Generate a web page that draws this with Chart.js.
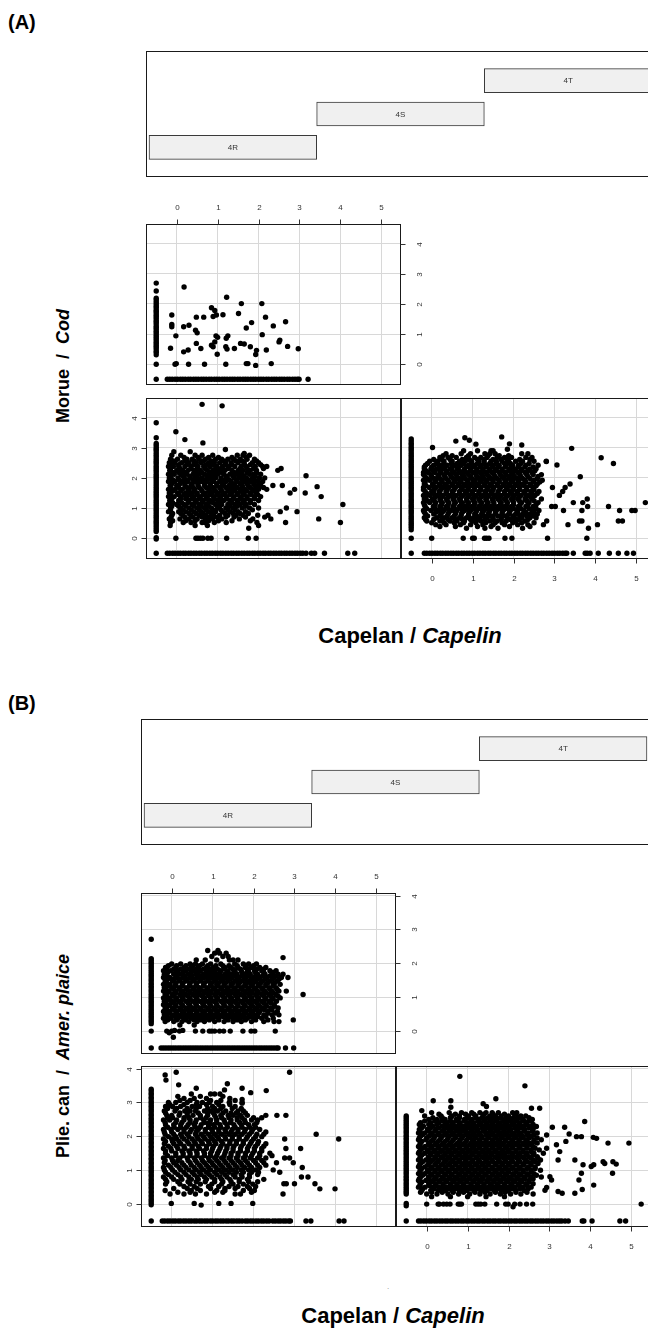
<!DOCTYPE html>
<html><head><meta charset="utf-8">
<script src="https://cdn.jsdelivr.net/npm/chart.js@4.4.1/dist/chart.umd.min.js"></script>
<style>
html,body{margin:0;padding:0;background:#fff;}
body{width:648px;height:1331px;overflow:hidden;position:relative;}
canvas{position:absolute;}
.lab{position:absolute;font-family:"Liberation Sans",Arial,sans-serif;font-weight:bold;color:#000;white-space:nowrap;line-height:1;}
.rot{transform:translate(-50%,-50%) rotate(-90deg);}
.ctr{transform:translate(-50%,-50%);}
.tag{font-family:"Liberation Sans Narrow","Arial Narrow",sans-serif;font-size:20px;}
</style></head><body>
<div class="lab tag" style="left:8px;top:12px;">(A)</div>
<div class="lab rot" style="left:63px;top:366px;font-size:18px;">Morue&nbsp;&nbsp;/&nbsp;&nbsp;<i>Cod</i></div>
<div class="lab ctr" style="left:410px;top:636px;font-size:22px;">Capelan / <i>Capelin</i></div>
<div class="lab tag" style="left:8px;top:693px;">(B)</div>
<div class="lab rot" style="left:63px;top:1056px;font-size:18px;">Plie. can&nbsp;&nbsp;/&nbsp;&nbsp;<i>Amer. plaice</i></div>
<div class="lab ctr" style="left:388px;top:1287px;font-size:8px;font-weight:normal;color:#888;">.</div>
<div class="lab ctr" style="left:393px;top:1316px;font-size:22px;">Capelan / <i>Capelin</i></div>
<script>
// ---------- given variable (region) ----------
const regions = ['4R', '4S', '4T'];
const regionLo = [0.5, 1.5, 2.5];
const regionHi = [1.5, 2.5, 3.5];

// ---------- axes ----------
const xTicks = [0, 1, 2, 3, 4, 5];
const yTicks = [0, 1, 2, 3, 4];
const ZERO = -0.5;   // value used for zero catches

// ================= (A) Cod =================
// 4T (top-left panel)
const codT_zeroCapelin = [2.69,2.43,2.19,2.13,2.06,2.0,1.93,1.88,1.81,1.76,1.7,1.63,1.58,1.52,1.45,1.4,1.34,1.27,1.22,1.16,1.09,1.04,0.98,0.92,0.86,0.8,0.74,0.69,0.62,0.57,0.51,0.44,0.39,0.31,0.0,-0.5];
const codT_zeroCod = [-0.23,-0.17,-0.11,-0.04,0.02,0.09,0.15,0.21,0.28,0.34,0.41,0.47,0.53,0.6,0.66,0.72,0.79,0.85,0.92,0.98,1.04,1.11,1.17,1.23,1.3,1.36,1.42,1.49,1.55,1.62,1.68,1.74,1.81,1.87,1.93,2.0,2.06,2.12,2.19,2.25,2.32,2.38,2.44,2.51,2.57,2.63,2.7,2.76,2.83,2.89,2.95,2.99,3.21];
const codT_cloud = [];
const codT_points = [[0.18,2.56],[-0.12,1.63],[-0.12,1.32],[-0.12,1.24],[-0.02,0.94],[-0.15,0.53],[-0.04,0.0],[-0.01,0.02],[0.17,1.24],[0.3,1.29],[0.17,0.41],[0.28,0.47],[0.29,0.0],[0.48,1.56],[0.66,1.56],[0.46,1.13],[0.5,1.04],[0.48,0.69],[0.59,0.52],[0.68,0.0],[0.85,1.87],[0.93,1.78],[0.89,1.58],[0.97,1.63],[1.13,1.64],[1.22,2.22],[0.96,0.94],[1.0,0.89],[0.93,0.74],[0.85,0.63],[0.89,0.58],[0.99,0.33],[1.25,0.94],[1.21,0.86],[1.2,0.58],[1.23,0.5],[1.41,0.52],[1.2,0.0],[1.51,1.68],[1.58,2.01],[1.56,0.69],[1.65,0.67],[1.7,1.2],[1.83,1.38],[1.8,0.58],[1.95,0.46],[1.93,0.32],[1.7,0.02],[1.74,0.02],[1.93,-0.04],[2.08,2.01],[2.09,0.98],[2.17,1.56],[2.19,0.47],[2.31,0.02],[2.36,1.27],[2.52,0.8],[2.5,0.74],[2.66,1.41],[2.71,0.59],[2.97,0.51]];

// 4R (bottom-left panel)
const codR_zeroCapelin = [3.83,3.33,3.14,3.08,3.01,2.95,2.9,2.83,2.77,2.71,2.64,2.58,2.52,2.46,2.39,2.33,2.27,2.21,2.14,2.08,2.02,1.96,1.9,1.83,1.77,1.71,1.65,1.58,1.52,1.46,1.4,1.34,1.27,1.21,1.15,1.09,1.03,0.96,0.9,0.84,0.78,0.72,0.66,0.59,0.53,0.47,0.41,0.35,0.28,0.22,0.02,-0.03,-0.5];
const codR_zeroCod = [-0.23,-0.17,-0.1,-0.04,0.03,0.09,0.16,0.22,0.29,0.35,0.42,0.48,0.55,0.61,0.68,0.74,0.81,0.87,0.94,1.0,1.07,1.13,1.2,1.26,1.33,1.39,1.46,1.52,1.59,1.65,1.72,1.78,1.85,1.91,1.98,2.04,2.11,2.17,2.24,2.3,2.37,2.43,2.5,2.56,2.63,2.69,2.76,2.82,2.89,2.95,3.02,3.08,3.16,3.29,3.37,3.61,4.18,4.35];
const codR_cloud = [
 [2.75,-0.12,0.1,0.45,0.62,0.88,1.48,1.62,1.78],
 [2.62,-0.15,0.02,0.25,0.38,0.55,0.7,0.95,1.1,1.25,1.4,1.55,1.72,1.9],
 [2.5,-0.18,-0.05,0.12,0.3,0.48,0.6,0.78,0.92,1.05,1.2,1.33,1.5,1.65,1.85,2.0],
 [2.38,-0.2,-0.08,0.05,0.2,0.35,0.52,0.66,0.82,0.98,1.12,1.28,1.42,1.58,1.7,1.92,2.1,2.2],
 [2.25,-0.17,0.0,0.15,0.28,0.42,0.58,0.75,0.88,1.02,1.18,1.35,1.5,1.62,1.8,1.95,2.47],
 [2.12,-0.2,-0.06,0.1,0.25,0.4,0.55,0.68,0.85,1.0,1.15,1.3,1.45,1.6,1.78,1.88,2.05],
 [2.0,-0.18,0.03,0.18,0.33,0.5,0.62,0.8,0.95,1.08,1.22,1.4,1.55,1.7,1.85,2.02,2.15],
 [1.88,-0.2,-0.05,0.12,0.28,0.45,0.6,0.74,0.9,1.05,1.2,1.32,1.48,1.65,1.82,1.98,2.1],
 [1.75,-0.16,0.0,0.2,0.35,0.52,0.68,0.82,0.98,1.15,1.28,1.42,1.6,1.75,1.92,2.05,2.35,2.58],
 [1.62,-0.2,-0.04,0.14,0.3,0.44,0.6,0.78,0.92,1.08,1.25,1.38,1.55,1.68,1.85,2.0,2.2,2.88],
 [1.5,-0.18,0.02,0.22,0.38,0.5,0.7,0.86,1.0,1.18,1.34,1.5,1.62,1.8,1.95,2.77,3.14],
 [1.38,-0.2,-0.06,0.1,0.25,0.42,0.58,0.75,0.9,1.05,1.22,1.4,1.58,1.72,1.9,2.05,3.53],
 [1.25,-0.17,0.05,0.3,0.48,0.65,0.82,1.0,1.15,1.3,1.48,1.65,1.8,2.0],
 [1.12,-0.2,0.0,0.18,0.38,0.55,0.72,0.95,1.1,1.25,1.42,1.55,1.7,1.9,4.06],
 [1.0,-0.15,0.1,0.3,0.5,0.68,0.85,1.0,1.2,1.38,1.6,1.78,2.0,2.68],
 [0.88,-0.2,0.05,0.22,0.42,0.6,0.78,0.95,1.12,1.3,1.5,1.68,2.53,2.94],
 [0.76,-0.12,0.15,0.35,0.55,0.72,0.9,1.05,1.25,1.45,1.62,1.98,2.23],
 [0.64,-0.18,0.08,0.3,0.5,0.7,0.88,1.1,1.53,1.86,2.3,3.47],
 [0.52,-0.15,0.16,0.35,0.62,0.69,0.92,1.21,1.96,2.66,4.0],
 [0.42,-0.16,0.45,0.75,2.0],
 [0.33,1.76],
 [2.68,0.18,0.52,0.78,1.02,1.35,1.7],
 [2.56,-0.08,0.2,0.42,0.65,0.85,1.15,1.45,1.6,1.95],
 [2.44,-0.12,0.05,0.25,0.42,0.72,0.88,1.18,1.35,1.65,1.8,2.05],
 [2.31,-0.15,0.08,0.35,0.5,0.7,0.95,1.08,1.25,1.55,1.72,1.88,2.12],
 [2.18,-0.1,0.05,0.2,0.48,0.62,0.8,0.95,1.1,1.4,1.55,1.72,1.95],
 [2.06,-0.14,0.15,0.32,0.45,0.75,0.9,1.22,1.38,1.52,1.65,1.92],
 [1.94,-0.1,0.05,0.22,0.4,0.55,0.7,0.85,1.12,1.28,1.45,1.6,1.75,1.9],
 [1.81,-0.12,0.08,0.2,0.38,0.52,0.68,0.82,0.98,1.12,1.38,1.55,1.72,1.88,2.02],
 [1.68,-0.14,0.05,0.25,0.4,0.55,0.72,0.88,1.05,1.2,1.32,1.48,1.62,1.8,1.95,2.12],
 [1.56,-0.1,0.1,0.28,0.42,0.62,0.8,0.95,1.1,1.28,1.42,1.58,1.72,1.9],
 [1.44,-0.15,0.05,0.18,0.32,0.5,0.65,0.82,0.98,1.12,1.3,1.48,1.65,1.82,1.98],
 [1.31,-0.12,0.1,0.22,0.38,0.55,0.72,0.92,1.08,1.22,1.38,1.55,1.72,1.9],
 [1.18,-0.1,0.12,0.28,0.45,0.62,0.78,0.88,1.05,1.35,1.5,1.62,1.8],
 [1.06,-0.12,0.05,0.22,0.42,0.6,0.78,1.05,1.3,1.48,1.68],
 [0.94,-0.15,0.15,0.35,0.55,0.72,0.9,1.08,1.25,1.42,1.85],
 [0.82,-0.1,0.1,0.3,0.48,0.65,0.85,1.18,1.38,1.55,1.75],
 [0.7,-0.14,0.2,0.4,0.62,0.8,0.98,1.2,1.4,1.68,2.15],
 [0.58,-0.1,0.22,0.45,0.78,1.02,1.35,1.8]
];
const codR_points = [[-0.02,0.0],[0.47,0.0],[0.52,0.0],[0.58,0.0],[0.64,0.0],[0.76,0.0],[0.84,0.0],[1.22,0.0],[1.75,0.0],[1.94,0.0],[0.62,4.44],[1.11,4.39],[-0.02,3.53],[0.2,3.27],[0.64,3.16],[0.33,2.87],[-0.07,2.87],[1.19,2.94],[1.65,2.81],[2.55,2.31],[3.16,2.07],[3.43,1.71]];

// 4S (bottom-right panel)
const codS_zeroCapelin = [3.29,3.22,3.15,3.09,3.02,2.96,2.9,2.83,2.77,2.71,2.64,2.58,2.52,2.45,2.39,2.33,2.26,2.2,2.14,2.07,2.01,1.95,1.88,1.82,1.76,1.69,1.63,1.57,1.5,1.44,1.38,1.31,1.25,1.19,1.12,1.06,1.0,0.93,0.87,0.81,0.74,0.68,0.62,0.55,0.49,0.43,0.36,0.28,0.0,-0.5];
const codS_zeroCod = [-0.18,-0.12,-0.05,0.01,0.08,0.14,0.21,0.27,0.34,0.4,0.47,0.53,0.6,0.66,0.73,0.79,0.86,0.92,0.99,1.05,1.12,1.18,1.25,1.31,1.38,1.44,1.51,1.57,1.64,1.7,1.77,1.83,1.9,1.96,2.03,2.09,2.16,2.22,2.29,2.35,2.42,2.48,2.55,2.61,2.68,2.74,2.81,2.87,2.94,3.0,3.07,3.13,3.2,3.26,3.3,3.46,3.75,3.8,3.87,4.07,4.34,4.56,4.77,4.93];
const codS_cloud = [
 [2.9,0.78,1.12,1.45,1.5],
 [2.8,0.35,0.72,0.95,1.3,1.42,1.55,2.2,2.35],
 [2.68,0.2,0.4,0.6,0.85,1.05,1.2,1.35,1.6,1.78,1.95,2.3,2.45],
 [2.55,-0.05,0.15,0.3,0.5,0.68,0.82,0.98,1.15,1.28,1.45,1.58,1.72,1.88,2.05,2.22,2.5,2.8],
 [2.42,-0.15,0.05,0.22,0.38,0.55,0.72,0.9,1.05,1.2,1.35,1.5,1.65,1.82,1.98,2.12,2.3,2.6],
 [2.3,-0.18,-0.02,0.12,0.28,0.45,0.62,0.8,0.95,1.1,1.25,1.42,1.58,1.72,1.9,2.05,2.2,2.4,2.55],
 [2.18,-0.2,-0.08,0.08,0.22,0.38,0.55,0.7,0.85,1.02,1.18,1.32,1.48,1.65,1.8,1.95,2.1,2.28,2.45],
 [2.05,-0.16,0.0,0.15,0.32,0.48,0.62,0.78,0.95,1.1,1.25,1.4,1.55,1.72,1.88,2.02,2.18,2.35,2.6],
 [1.92,-0.2,-0.05,0.1,0.25,0.4,0.58,0.72,0.88,1.05,1.2,1.35,1.5,1.65,1.82,1.98,2.12,2.28,2.5,2.7],
 [1.8,-0.18,0.02,0.18,0.32,0.5,0.65,0.8,0.95,1.12,1.28,1.42,1.6,1.75,1.9,2.05,2.22,2.4,2.58,3.38],
 [1.68,-0.2,-0.06,0.1,0.28,0.42,0.58,0.75,0.9,1.05,1.2,1.38,1.52,1.68,1.85,2.0,2.15,2.32,2.48,2.95,3.26],
 [1.55,-0.16,0.0,0.18,0.35,0.5,0.68,0.82,0.98,1.15,1.3,1.45,1.62,1.78,1.92,2.08,2.25,2.42,2.62,3.2],
 [1.42,-0.2,-0.04,0.12,0.28,0.45,0.6,0.76,0.92,1.08,1.25,1.4,1.55,1.7,1.86,2.02,2.18,2.35,2.52,3.12],
 [1.3,-0.18,0.02,0.2,0.36,0.52,0.68,0.85,1.0,1.15,1.32,1.48,1.62,1.78,1.95,2.1,2.28,2.45,2.68,3.8],
 [1.18,-0.2,-0.05,0.1,0.26,0.42,0.58,0.75,0.9,1.06,1.22,1.38,1.52,1.7,1.85,2.0,2.2,2.38,2.6,3.46,3.69,5.22],
 [1.05,-0.16,0.04,0.2,0.36,0.52,0.68,0.82,0.98,1.15,1.3,1.45,1.62,1.78,1.95,2.12,2.3,2.48,2.93,3.02,3.81,4.32],
 [0.92,-0.2,-0.02,0.15,0.3,0.48,0.62,0.8,0.95,1.1,1.28,1.42,1.58,1.75,1.92,2.08,2.25,2.45,2.62,3.22,3.67,4.59,4.89,4.97],
 [0.8,-0.15,0.05,0.22,0.4,0.58,0.72,0.9,1.05,1.22,1.38,1.55,1.72,1.88,2.05,2.22,2.4,2.58],
 [0.68,-0.18,0.12,0.3,0.5,0.68,0.85,1.02,1.18,1.35,1.5,1.7,1.85,2.02,2.2,2.4,2.55],
 [0.57,-0.12,0.2,0.45,0.62,0.8,1.0,1.2,1.42,1.6,1.82,2.05,2.28,2.81,3.61,3.67,4.56,4.66],
 [0.45,0.1,0.35,0.7,0.95,1.25,1.5,1.78,2.1,2.35,2.73,3.33,4.05],
 [0.33,0.85,1.3,1.62,2.22,3.83],
 [2.74,0.28,0.5,0.9,1.38,1.65,1.88],
 [2.61,0.05,0.25,0.45,0.75,0.92,1.12,1.28,1.5,1.7,1.85,2.15,2.4],
 [2.48,-0.1,0.12,0.3,0.48,0.62,0.78,0.96,1.12,1.28,1.42,1.58,1.78,1.92,2.18,2.38],
 [2.36,-0.18,0.0,0.18,0.32,0.5,0.66,0.85,1.0,1.18,1.32,1.48,1.62,1.8,1.95,2.12,2.28,2.48],
 [2.24,-0.14,0.04,0.2,0.35,0.5,0.66,0.78,0.95,1.1,1.25,1.4,1.55,1.72,1.88,2.02,2.18,2.35,2.52],
 [2.11,-0.2,-0.02,0.18,0.3,0.45,0.6,0.75,0.9,1.08,1.22,1.36,1.52,1.68,1.82,1.98,2.15,2.32,2.48,2.68],
 [1.98,-0.12,0.05,0.2,0.35,0.52,0.68,0.82,0.98,1.15,1.28,1.44,1.6,1.76,1.92,2.08,2.22,2.4,2.58],
 [1.86,-0.16,0.08,0.25,0.42,0.55,0.7,0.88,1.02,1.18,1.32,1.5,1.65,1.8,1.95,2.12,2.3,2.48,2.64],
 [1.74,-0.14,0.04,0.2,0.36,0.52,0.68,0.85,1.0,1.15,1.3,1.46,1.62,1.78,1.92,2.1,2.26,2.42,2.55],
 [1.61,-0.2,0.06,0.22,0.38,0.55,0.72,0.88,1.04,1.2,1.35,1.5,1.66,1.82,1.98,2.15,2.32,2.5],
 [1.48,-0.12,0.05,0.2,0.36,0.52,0.68,0.85,1.0,1.16,1.32,1.48,1.62,1.78,1.95,2.1,2.28,2.45,2.58],
 [1.36,-0.15,0.08,0.24,0.4,0.55,0.72,0.88,1.04,1.2,1.36,1.52,1.66,1.82,1.98,2.14,2.3,2.42],
 [1.24,-0.1,0.06,0.22,0.38,0.55,0.7,0.86,1.02,1.18,1.34,1.5,1.66,1.82,1.98,2.14,2.32,2.5],
 [1.11,-0.18,0.08,0.24,0.4,0.55,0.72,0.88,1.04,1.2,1.35,1.52,1.68,1.84,2.0,2.16,2.35,2.55],
 [0.98,-0.12,0.08,0.24,0.4,0.56,0.72,0.9,1.05,1.2,1.36,1.52,1.68,1.84,2.0,2.18,2.38,2.55],
 [0.86,-0.18,0.1,0.26,0.42,0.58,0.75,0.92,1.08,1.24,1.4,1.56,1.72,1.9,2.1,2.3,2.5],
 [0.74,-0.1,0.2,0.38,0.55,0.72,0.9,1.1,1.28,1.45,1.62,1.8,1.98,2.15,2.32,2.48],
 [0.62,-0.15,0.05,0.25,0.4,0.58,0.75,0.95,1.12,1.3,1.5,1.7,1.92,2.12,2.35],
 [0.51,0.0,0.3,0.55,0.78,1.08,1.32,1.55,1.72,1.98,2.2,2.5],
 [0.39,0.2,0.58,1.12,1.45,1.9,2.4]
];
const codS_points = [[0.0,0.0],[0.77,0.0],[1.0,0.0],[1.04,0.0],[1.29,0.0],[1.34,0.0],[1.4,0.0],[1.79,0.0],[1.96,0.0],[2.83,0.0],[3.79,0.0],[0.59,3.22],[0.81,3.33],[0.92,3.25],[1.08,3.12],[1.71,3.36],[1.9,3.13],[2.2,3.09],[1.85,2.95],[0.02,3.01],[3.42,2.98],[2.8,2.54],[3.06,2.43],[3.63,2.04],[4.14,2.67],[4.44,2.48]];

// ================= (B) American plaice =================
// 4T (top-left panel)
const plT_zeroCapelin = [2.71,2.14,2.09,2.03,1.98,1.92,1.87,1.81,1.76,1.7,1.65,1.6,1.54,1.49,1.43,1.38,1.32,1.27,1.21,1.16,1.1,1.05,0.99,0.94,0.88,0.83,0.77,0.72,0.66,0.61,0.55,0.5,0.44,0.39,0.33,0.28,0.22,0.0,-0.5];
const plT_zeroPlaice = [-0.26,-0.2,-0.14,-0.08,-0.02,0.04,0.1,0.16,0.22,0.28,0.34,0.4,0.46,0.52,0.58,0.64,0.7,0.76,0.82,0.88,0.94,1.0,1.06,1.12,1.18,1.24,1.3,1.36,1.42,1.48,1.54,1.6,1.66,1.72,1.78,1.84,1.9,1.96,2.02,2.08,2.14,2.2,2.26,2.32,2.38,2.44,2.5,2.56,2.6,2.78,2.98];
const plT_cloud = [
 [2.38,0.88,1.13],
 [2.3,1.05,1.17,1.33],
 [2.2,0.98,1.25,1.38],
 [2.1,0.6,0.82,1.1,1.41,1.5,1.62],
 [1.98,0.0,0.22,0.45,0.58,0.75,0.95,1.2,1.54,1.75,1.88,2.07],
 [1.88,-0.15,0.1,0.3,0.48,0.65,0.85,1.02,1.3,1.45,1.62,1.8,1.95,2.15,2.3],
 [1.78,-0.2,-0.02,0.15,0.35,0.55,0.7,0.9,1.05,1.2,1.38,1.55,1.7,1.85,2.02,2.2,2.4,2.55],
 [1.68,-0.18,0.05,0.2,0.4,0.6,0.78,0.95,1.12,1.3,1.45,1.6,1.78,1.92,2.1,2.28,2.45,2.6,2.72],
 [1.58,-0.2,-0.05,0.12,0.28,0.45,0.62,0.8,0.98,1.15,1.32,1.48,1.65,1.82,2.0,2.15,2.32,2.5,2.68,2.84],
 [1.48,-0.16,0.02,0.18,0.35,0.52,0.7,0.88,1.05,1.22,1.38,1.55,1.72,1.9,2.05,2.22,2.4,2.58],
 [1.38,-0.2,-0.04,0.1,0.26,0.44,0.6,0.78,0.95,1.1,1.28,1.45,1.62,1.8,1.95,2.12,2.3,2.48,2.65],
 [1.28,-0.18,0.0,0.18,0.35,0.52,0.68,0.86,1.02,1.2,1.36,1.52,1.7,1.86,2.02,2.2,2.38,2.55],
 [1.18,-0.2,-0.06,0.1,0.28,0.45,0.6,0.78,0.95,1.12,1.28,1.45,1.62,1.78,1.95,2.1,2.28,2.45,2.62,2.8],
 [1.08,-0.16,0.02,0.2,0.36,0.52,0.7,0.88,1.05,1.2,1.38,1.55,1.7,1.88,2.05,2.2,2.38,2.55,3.21],
 [0.98,-0.2,-0.04,0.12,0.28,0.45,0.62,0.8,0.96,1.12,1.3,1.46,1.62,1.8,1.96,2.12,2.3,2.48,2.65],
 [0.88,-0.18,0.0,0.18,0.35,0.52,0.68,0.86,1.02,1.2,1.36,1.52,1.7,1.86,2.02,2.2,2.38,2.56],
 [0.78,-0.2,-0.05,0.1,0.26,0.44,0.6,0.78,0.94,1.1,1.28,1.45,1.62,1.78,1.95,2.12,2.3,2.5],
 [0.68,-0.16,0.02,0.2,0.36,0.52,0.7,0.88,1.04,1.2,1.38,1.55,1.72,1.9,2.05,2.22,2.42,2.6],
 [0.58,-0.2,-0.04,0.12,0.3,0.46,0.62,0.8,0.96,1.12,1.3,1.48,1.65,1.82,1.98,2.15,2.35,2.58],
 [0.48,-0.18,0.0,0.18,0.34,0.5,0.68,0.85,1.02,1.18,1.35,1.52,1.7,1.88,2.05,2.25,2.45,2.62],
 [0.38,-0.2,-0.02,0.15,0.3,0.48,0.65,0.82,1.0,1.15,1.32,1.5,1.68,1.85,2.02,2.2,2.48],
 [0.28,-0.16,0.05,0.25,0.42,0.62,0.8,1.05,1.28,1.5,1.7,1.95,2.25,2.5,2.62],
 [0.18,0.2,0.55],
 [1.93,-0.08,0.12,0.35,0.52,0.68,0.88,1.08,1.25,1.4,1.6,1.82,2.0],
 [1.83,-0.12,0.05,0.22,0.42,0.6,0.78,0.95,1.12,1.28,1.5,1.68,1.88,2.08,2.25],
 [1.73,-0.1,0.1,0.28,0.48,0.65,0.85,1.0,1.18,1.35,1.52,1.72,1.88,2.05,2.25,2.48],
 [1.63,-0.12,0.12,0.32,0.5,0.7,0.88,1.05,1.22,1.4,1.55,1.72,1.88,2.05,2.22,2.4,2.55],
 [1.53,-0.1,0.05,0.2,0.38,0.55,0.72,0.9,1.08,1.25,1.42,1.6,1.78,1.95,2.1,2.28,2.45,2.62],
 [1.43,-0.12,0.1,0.28,0.45,0.62,0.8,0.98,1.15,1.32,1.5,1.66,1.84,2.0,2.18,2.35,2.52],
 [1.33,-0.1,0.08,0.26,0.44,0.6,0.78,0.95,1.12,1.28,1.45,1.62,1.78,1.96,2.12,2.3,2.48],
 [1.23,-0.14,0.05,0.2,0.38,0.55,0.7,0.88,1.05,1.22,1.38,1.55,1.72,1.88,2.05,2.22,2.4,2.58],
 [1.13,-0.1,0.1,0.28,0.45,0.62,0.8,0.96,1.12,1.3,1.46,1.62,1.8,1.96,2.12,2.3,2.48],
 [1.03,-0.12,0.06,0.24,0.4,0.58,0.75,0.92,1.08,1.25,1.42,1.58,1.76,1.92,2.08,2.25,2.42,2.6],
 [0.93,-0.1,0.1,0.26,0.44,0.6,0.78,0.95,1.1,1.28,1.44,1.6,1.78,1.94,2.1,2.28,2.45],
 [0.83,-0.14,0.06,0.22,0.4,0.58,0.75,0.92,1.08,1.25,1.42,1.58,1.74,1.9,2.08,2.25,2.42],
 [0.73,-0.1,0.1,0.28,0.45,0.62,0.8,0.96,1.12,1.3,1.46,1.62,1.8,1.98,2.15,2.32,2.52],
 [0.63,-0.12,0.06,0.22,0.4,0.56,0.72,0.9,1.06,1.22,1.4,1.56,1.74,1.9,2.08,2.26,2.45],
 [0.53,-0.1,0.1,0.26,0.42,0.6,0.76,0.94,1.1,1.26,1.44,1.6,1.78,1.95,2.12,2.35,2.52],
 [0.43,-0.12,0.08,0.24,0.4,0.58,0.74,0.92,1.08,1.25,1.42,1.6,1.76,1.94,2.1,2.3],
 [0.33,-0.1,0.12,0.35,0.55,0.72,0.92,1.15,1.38,1.6,1.8,2.05,2.35]
];
const plT_points = [[-0.12,0.0],[-0.06,-0.05],[0.0,0.0],[0.07,0.02],[0.04,-0.18],[0.19,0.0],[0.27,0.02],[0.58,0.0],[0.76,0.0],[0.92,0.0],[0.98,0.0],[1.05,0.0],[1.17,0.0],[1.27,0.0],[1.43,0.0],[1.74,0.0],[1.94,0.0],[2.03,0.0],[2.53,0.0],[2.72,2.17],[2.97,0.33]];

// 4R (bottom-left panel)
const plR_zeroCapelin = [3.39,3.34,3.27,3.22,3.15,3.1,3.03,2.98,2.91,2.86,2.79,2.74,2.67,2.62,2.55,2.5,2.43,2.38,2.31,2.26,2.19,2.14,2.07,2.02,1.95,1.9,1.83,1.78,1.71,1.66,1.59,1.54,1.47,1.42,1.35,1.3,1.23,1.18,1.11,1.06,0.99,0.94,0.87,0.82,0.75,0.7,0.63,0.58,0.51,0.46,0.39,0.34,0.27,0.22,0.15,0.1,0.04,-0.02,-0.5];
const plR_zeroPlaice = [-0.23,-0.17,-0.1,-0.04,0.03,0.09,0.16,0.22,0.29,0.35,0.42,0.48,0.55,0.61,0.68,0.74,0.81,0.87,0.94,1.0,1.07,1.13,1.2,1.26,1.33,1.39,1.46,1.52,1.59,1.65,1.72,1.8,1.86,1.93,1.99,2.06,2.12,2.19,2.25,2.32,2.38,2.47,2.53,2.6,2.66,2.73,2.79,2.86,2.9,3.28,3.4,4.09,4.21];
const plR_cloud = [
 [3.25,0.48,0.95,1.05,1.18],
 [3.12,0.3,0.55,0.85,1.42],
 [3.0,-0.08,0.1,0.38,0.62,0.75,0.92,1.1,1.41,1.72],
 [2.88,-0.15,0.02,0.22,0.5,0.68,1.0,1.25,1.55],
 [2.75,-0.18,0.08,0.32,0.45,0.58,0.8,0.95,1.12,1.32,1.62,1.75],
 [2.62,-0.12,0.0,0.18,0.38,0.52,0.7,0.88,1.05,1.2,1.38,1.5,1.68,1.85,2.3,2.57,2.79],
 [2.48,-0.2,-0.05,0.12,0.3,0.45,0.6,0.78,0.95,1.1,1.28,1.45,1.6,1.78,1.95,2.1],
 [2.34,-0.15,0.05,0.22,0.4,0.55,0.72,0.9,1.02,1.18,1.35,1.52,1.7,1.88,2.02],
 [2.2,-0.2,-0.02,0.15,0.3,0.48,0.65,0.82,0.98,1.15,1.3,1.48,1.62,1.8,1.98,2.15],
 [2.06,-0.16,0.05,0.22,0.38,0.58,0.72,0.9,1.05,1.22,1.4,1.55,1.72,1.9,2.08,2.25,3.53],
 [1.92,-0.2,0.0,0.12,0.3,0.5,0.65,0.82,1.0,1.15,1.32,1.48,1.65,1.82,2.0,2.76,4.08],
 [1.78,-0.18,0.05,0.22,0.42,0.58,0.75,0.92,1.08,1.25,1.42,1.58,1.75,1.92,2.1,2.3],
 [1.64,-0.2,-0.02,0.15,0.32,0.5,0.68,0.85,1.0,1.18,1.35,1.5,1.68,1.85,2.02,2.2,2.79,3.15],
 [1.5,-0.15,0.1,0.28,0.45,0.62,0.8,0.95,1.12,1.3,1.45,1.62,1.8,1.98,2.15,2.4],
 [1.36,-0.2,0.0,0.2,0.38,0.55,0.72,0.9,1.05,1.22,1.4,1.58,1.75,1.92,2.1,2.3,2.76,2.88],
 [1.22,-0.18,0.05,0.25,0.45,0.62,0.8,0.98,1.15,1.32,1.5,1.68,1.85,2.05,2.25,2.56,2.97],
 [1.08,-0.2,-0.02,0.18,0.35,0.55,0.72,0.9,1.08,1.25,1.42,1.6,1.78,1.95,2.15,3.19],
 [0.94,-0.15,0.08,0.3,0.5,0.68,0.85,1.05,1.22,1.4,1.58,1.75,1.95,2.12,2.64],
 [0.8,-0.2,0.0,0.22,0.42,0.62,0.8,0.98,1.18,1.35,1.55,1.72,1.9,3.17,3.33],
 [0.66,-0.12,0.15,0.4,0.6,0.82,1.05,1.25,1.45,1.65,1.88,2.1],
 [0.6,2.74,2.8,3.0,3.5],
 [0.52,0.3,0.55,0.9,1.15,1.4,1.62,1.85,2.05],
 [0.45,3.62,3.99],
 [0.4,-0.16,0.48,0.7,1.1,1.3,1.75,2.02],
 [0.3,-0.04,0.3,0.58,0.85,1.55,1.68,2.72],
 [3.18,0.15,0.7,1.25],
 [3.06,0.2,0.45,0.95,1.2,1.55],
 [2.94,-0.05,0.3,0.6,0.85,1.15,1.42],
 [2.82,-0.1,0.12,0.38,0.6,0.88,1.05,1.2,1.48,1.7],
 [2.69,-0.15,0.2,0.38,0.65,0.88,1.02,1.25,1.45,1.58,1.8],
 [2.55,-0.1,0.02,0.3,0.42,0.7,0.84,1.08,1.22,1.4,1.6,1.72,2.0,2.2],
 [2.41,-0.16,0.1,0.25,0.45,0.58,0.8,0.92,1.1,1.3,1.44,1.66,1.8,2.08],
 [2.27,-0.1,0.06,0.22,0.36,0.58,0.7,0.9,1.05,1.2,1.36,1.55,1.72,1.9,2.05],
 [2.13,-0.18,0.0,0.3,0.45,0.6,0.82,1.0,1.15,1.32,1.45,1.62,1.78,1.95,2.3],
 [1.99,-0.08,0.1,0.25,0.42,0.62,0.78,0.95,1.12,1.3,1.48,1.65,1.85,2.05,2.2],
 [1.85,-0.15,0.02,0.18,0.38,0.55,0.72,0.9,1.05,1.22,1.42,1.58,1.75,1.95,2.12],
 [1.71,-0.08,0.12,0.3,0.5,0.65,0.85,1.02,1.2,1.35,1.52,1.7,1.88,2.05,2.25],
 [1.57,-0.15,0.0,0.25,0.42,0.6,0.78,0.98,1.15,1.32,1.5,1.68,1.85,2.02,2.2],
 [1.43,-0.1,0.1,0.28,0.45,0.62,0.8,0.95,1.1,1.28,1.45,1.62,1.8,1.95,2.15,2.45],
 [1.29,-0.16,0.02,0.15,0.4,0.58,0.75,0.92,1.1,1.28,1.45,1.62,1.8,2.0,2.2],
 [1.15,-0.08,0.12,0.3,0.48,0.68,0.85,1.02,1.2,1.38,1.55,1.72,1.9,2.1,2.3],
 [1.01,-0.18,0.02,0.22,0.42,0.6,0.78,0.95,1.15,1.32,1.5,1.7,1.88,2.05,2.48],
 [0.87,-0.08,0.15,0.35,0.55,0.72,0.92,1.1,1.3,1.5,1.7,1.9,2.1],
 [0.73,-0.15,0.05,0.25,0.48,0.65,0.85,1.05,1.22,1.42,1.65,1.85,2.25],
 [0.59,-0.15,0.2,0.45,0.7,0.98,1.22,1.5,1.75,1.98],
 [0.46,0.05,0.38,0.62,0.95,1.3,1.55,1.9],
 [0.35,0.15,0.45,1.05,1.25,1.95]
];
const plR_points = [[-0.01,0.02],[0.55,0.02],[0.72,-0.03],[1.15,0.02],[1.45,0.02],[1.98,0.02],[-0.16,3.81],[-0.14,3.66],[0.11,3.89],[0.17,3.52],[2.88,3.89],[0.6,3.42],[1.36,3.55],[1.29,3.37],[1.72,3.42],[1.93,3.29],[2.31,3.35],[1.41,3.0],[1.72,3.09],[1.72,2.98]];

// 4S (bottom-right panel)
const plS_zeroCapelin = [2.6,2.55,2.49,2.44,2.38,2.33,2.27,2.22,2.16,2.11,2.05,2.0,1.94,1.89,1.83,1.78,1.72,1.67,1.61,1.56,1.5,1.45,1.39,1.34,1.28,1.23,1.17,1.12,1.06,1.01,0.95,0.9,0.84,0.79,0.73,0.68,0.62,0.57,0.51,0.46,0.4,0.35,0.3,0.02,-0.05,-0.5];
const plS_zeroPlaice = [-0.2,-0.14,-0.07,-0.01,0.06,0.12,0.19,0.25,0.32,0.38,0.45,0.51,0.58,0.64,0.71,0.77,0.84,0.9,0.97,1.03,1.1,1.16,1.23,1.29,1.36,1.42,1.49,1.55,1.62,1.68,1.75,1.81,1.88,1.94,2.01,2.07,2.14,2.2,2.27,2.33,2.4,2.46,2.53,2.59,2.66,2.72,2.79,2.85,2.92,2.98,3.05,3.11,3.18,3.24,3.3,3.38,3.46,3.8,3.84,4.04,4.72,4.86];
const plS_cloud = [
 [2.7,0.12,0.55,0.85,1.1,1.3,1.45,1.6,1.75,2.1,2.2],
 [2.6,-0.05,0.35,0.62,0.8,1.02,1.2,1.38,1.55,1.68,1.82,2.0,2.3,2.42],
 [2.5,0.05,0.25,0.45,0.72,0.92,1.1,1.28,1.42,1.58,1.72,1.9,2.05,2.2,2.35,2.58],
 [2.4,-0.15,0.1,0.3,0.5,0.65,0.82,1.0,1.15,1.32,1.48,1.62,1.8,1.95,2.12,2.28,2.45],
 [2.3,-0.08,0.15,0.38,0.55,0.72,0.9,1.05,1.2,1.38,1.52,1.68,1.85,2.0,2.18,2.35,2.52],
 [2.2,-0.18,0.02,0.22,0.42,0.6,0.78,0.95,1.1,1.25,1.42,1.58,1.75,1.9,2.05,2.22,2.4,2.6],
 [2.1,-0.2,-0.05,0.12,0.3,0.48,0.65,0.82,1.0,1.15,1.3,1.48,1.62,1.8,1.95,2.12,2.3,2.48,2.7],
 [2.0,-0.15,0.05,0.2,0.38,0.55,0.72,0.88,1.05,1.2,1.35,1.52,1.68,1.85,2.0,2.18,2.35,2.55],
 [1.9,-0.2,-0.02,0.15,0.32,0.5,0.65,0.82,0.98,1.12,1.28,1.45,1.6,1.75,1.92,2.08,2.25,2.42,2.62,2.8],
 [1.8,-0.16,0.05,0.22,0.4,0.58,0.75,0.92,1.08,1.22,1.38,1.55,1.7,1.85,2.02,2.18,2.35,2.52,2.7],
 [1.7,-0.2,-0.04,0.12,0.3,0.48,0.65,0.8,0.98,1.15,1.3,1.45,1.62,1.78,1.95,2.1,2.28,2.45,2.6],
 [1.6,-0.15,0.02,0.2,0.38,0.55,0.72,0.88,1.05,1.2,1.38,1.52,1.68,1.85,2.0,2.18,2.35,2.55,2.75],
 [1.5,-0.2,-0.05,0.1,0.28,0.45,0.62,0.8,0.95,1.12,1.28,1.45,1.6,1.78,1.92,2.1,2.28,2.45,2.62],
 [1.4,-0.16,0.04,0.2,0.36,0.52,0.7,0.86,1.02,1.2,1.35,1.5,1.68,1.82,2.0,2.15,2.32,2.5,2.7],
 [1.3,-0.2,-0.02,0.14,0.3,0.48,0.64,0.8,0.96,1.12,1.28,1.45,1.6,1.76,1.92,2.08,2.25,2.42,2.6,2.78],
 [1.2,-0.15,0.05,0.22,0.4,0.56,0.72,0.9,1.05,1.22,1.38,1.52,1.7,1.86,2.02,2.2,2.38,2.55,2.72],
 [1.1,-0.2,-0.04,0.12,0.3,0.46,0.62,0.8,0.95,1.1,1.28,1.44,1.6,1.78,1.94,2.1,2.28,2.48,2.65],
 [1.0,-0.16,0.02,0.2,0.36,0.54,0.7,0.86,1.02,1.18,1.35,1.52,1.68,1.84,2.0,2.18,2.35,2.55,2.78],
 [0.9,-0.2,-0.05,0.1,0.28,0.44,0.6,0.78,0.94,1.1,1.26,1.42,1.6,1.75,1.92,2.1,2.26,2.45,2.62],
 [0.8,-0.15,0.04,0.2,0.38,0.55,0.7,0.88,1.04,1.2,1.36,1.52,1.7,1.86,2.02,2.2,2.38,2.55,2.8],
 [0.7,-0.2,-0.02,0.15,0.32,0.48,0.65,0.82,0.98,1.15,1.3,1.48,1.64,1.8,1.96,2.12,2.3,2.5],
 [0.6,-0.16,0.05,0.22,0.4,0.58,0.74,0.9,1.08,1.24,1.4,1.56,1.72,1.9,2.06,2.24,2.42,2.6],
 [0.5,-0.2,-0.04,0.14,0.3,0.48,0.66,0.82,1.0,1.16,1.32,1.5,1.66,1.82,2.0,2.16,2.35,2.55],
 [0.4,-0.12,0.1,0.28,0.46,0.62,0.8,0.98,1.15,1.32,1.48,1.65,1.82,2.0,2.18,2.38],
 [0.3,0.0,0.25,0.52,0.78,1.05,1.3,1.55,1.8,2.05,2.3,2.6],
 [0.22,0.12,0.58,1.0,1.45,1.9],
 [2.65,0.3,0.7,0.95,1.15,1.4,1.62,1.9,2.15],
 [2.55,0.15,0.38,0.58,0.8,1.0,1.2,1.35,1.5,1.65,1.8,1.95,2.12,2.28,2.5],
 [2.45,-0.05,0.2,0.4,0.58,0.75,0.92,1.08,1.25,1.4,1.55,1.7,1.88,2.02,2.18,2.38,2.55],
 [2.35,-0.18,0.05,0.25,0.45,0.62,0.8,0.98,1.12,1.28,1.45,1.6,1.75,1.92,2.08,2.25,2.42,2.6],
 [2.25,-0.12,0.1,0.3,0.5,0.68,0.85,1.02,1.18,1.35,1.5,1.65,1.82,1.98,2.15,2.3,2.5],
 [2.15,-0.16,0.05,0.2,0.38,0.55,0.72,0.9,1.08,1.22,1.38,1.55,1.7,1.88,2.02,2.2,2.38,2.58],
 [2.05,-0.1,0.12,0.28,0.45,0.62,0.8,0.96,1.12,1.28,1.45,1.6,1.76,1.92,2.08,2.25,2.45,2.62],
 [1.95,-0.18,0.0,0.18,0.35,0.52,0.7,0.86,1.02,1.18,1.35,1.5,1.68,1.82,2.0,2.15,2.32,2.5,2.7],
 [1.85,-0.12,0.1,0.28,0.45,0.62,0.8,0.96,1.15,1.3,1.45,1.62,1.78,1.92,2.1,2.26,2.45,2.62],
 [1.75,-0.16,0.04,0.2,0.38,0.55,0.72,0.88,1.05,1.22,1.38,1.52,1.7,1.86,2.02,2.2,2.38,2.55],
 [1.65,-0.1,0.1,0.28,0.45,0.62,0.8,0.96,1.12,1.28,1.45,1.6,1.76,1.92,2.08,2.26,2.45,2.65],
 [1.55,-0.18,0.02,0.18,0.35,0.52,0.7,0.88,1.02,1.2,1.36,1.52,1.68,1.84,2.0,2.18,2.36,2.55],
 [1.45,-0.12,0.1,0.26,0.44,0.6,0.78,0.94,1.1,1.28,1.42,1.58,1.75,1.9,2.08,2.24,2.42,2.6],
 [1.35,-0.16,0.05,0.22,0.4,0.56,0.72,0.9,1.06,1.22,1.4,1.55,1.72,1.88,2.04,2.2,2.38,2.55,2.72],
 [1.25,-0.1,0.1,0.28,0.44,0.62,0.8,0.96,1.12,1.3,1.46,1.62,1.78,1.94,2.1,2.28,2.46,2.65],
 [1.15,-0.18,0.02,0.2,0.36,0.52,0.7,0.86,1.02,1.18,1.35,1.5,1.68,1.84,2.0,2.18,2.36,2.55],
 [1.05,-0.12,0.1,0.28,0.45,0.62,0.78,0.94,1.1,1.26,1.42,1.6,1.76,1.92,2.08,2.26,2.45,2.65],
 [0.95,-0.16,0.04,0.2,0.36,0.52,0.7,0.86,1.02,1.18,1.34,1.5,1.68,1.84,2.0,2.18,2.36,2.55],
 [0.85,-0.1,0.12,0.28,0.46,0.62,0.8,0.96,1.12,1.28,1.45,1.62,1.78,1.95,2.12,2.3,2.48,2.68],
 [0.75,-0.18,0.05,0.22,0.4,0.56,0.74,0.9,1.06,1.22,1.38,1.55,1.72,1.88,2.05,2.22,2.4,2.6],
 [0.65,-0.12,0.12,0.3,0.48,0.66,0.82,0.98,1.15,1.32,1.48,1.64,1.8,1.98,2.15,2.32,2.5],
 [0.55,-0.16,0.06,0.22,0.4,0.58,0.74,0.9,1.08,1.24,1.4,1.58,1.74,1.9,2.08,2.26,2.45],
 [0.45,-0.1,0.18,0.36,0.55,0.72,0.9,1.06,1.24,1.4,1.58,1.75,1.92,2.1,2.28,2.48],
 [0.35,-0.15,0.12,0.38,0.65,0.9,1.18,1.42,1.68,1.92,2.18,2.45]
];
const plS_points = [[0.0,0.0],[0.28,0.0],[0.31,0.0],[0.41,0.0],[0.49,0.0],[0.57,0.0],[0.77,0.0],[0.81,0.0],[0.85,0.0],[1.2,0.0],[1.26,0.0],[1.32,0.0],[1.42,0.0],[1.71,0.0],[1.93,0.0],[1.99,0.0],[2.15,0.0],[2.28,0.0],[2.44,0.0],[2.59,0.0],[2.11,-0.08],[5.24,0.0],
 [0.81,3.77],[2.4,3.49],[0.16,3.05],[0.59,3.05],[1.69,3.11],[-0.12,2.76],[0.59,2.86],[1.38,2.96],[1.46,2.88],[2.56,2.83],[2.76,2.83],[0.37,2.49],[0.59,2.56],[1.99,2.57],[2.24,2.57],[2.5,2.47],[2.68,2.29],[3.07,2.27],[2.93,2.04],[3.37,2.27],[3.86,2.44],[3.66,1.99],[3.78,1.99],[3.48,2.07],[4.07,1.97],[4.15,1.94],[4.43,1.8],[4.94,1.8],[3.17,1.75],[3.4,1.85],[3.25,1.55],[2.93,1.65],[2.85,1.5],[3.21,1.3],[3.62,1.3],[3.82,1.16],[4.02,1.11],[4.08,1.16],[4.31,1.25],[4.35,1.2],[4.55,1.25],[4.63,1.18],[4.54,0.91],[3.78,0.91],[3.72,0.71],[4.08,0.56],[3.8,0.43],[3.62,0.32],[3.21,0.37],[3.31,0.32],[2.89,0.41],[2.93,0.49],[3.01,0.81],[3.05,0.71]];

// ---------- builders ----------
function buildPoints(col, row, cloud, extra) {
  const pts = [];
  col.forEach(y => pts.push({x: ZERO, y}));
  row.forEach(x => pts.push({x, y: ZERO}));
  cloud.forEach(r => { for (let i = 1; i < r.length; i++) pts.push({x: r[i], y: r[0]}); });
  extra.forEach(p => pts.push({x: p[0], y: p[1]}));
  return pts;
}

const FONT = '"Liberation Sans", Arial, sans-serif';
const rAxes = {
  id: 'rAxes',
  afterDraw(chart, args, o) {
    const {ctx, chartArea: a} = chart;
    const xs = chart.scales.x, ys = chart.scales.y;
    const L = Math.round(a.left) + 0.5, R = Math.round(a.right) - 0.5;
    const T = Math.round(a.top) + 0.5, B = Math.round(a.bottom) - 0.5;
    ctx.save();
    ctx.strokeStyle = '#1a1a1a'; ctx.lineWidth = 1;
    ctx.strokeRect(L, T, R - L, B - T);
    ctx.strokeStyle = '#333'; ctx.fillStyle = '#333';
    ctx.font = '8px ' + FONT; ctx.textAlign = 'center'; ctx.textBaseline = 'middle';
    const seg = (x1, y1, x2, y2) => { ctx.beginPath(); ctx.moveTo(x1, y1); ctx.lineTo(x2, y2); ctx.stroke(); };
    xs.ticks.forEach(t => {
      const px = Math.round(xs.getPixelForValue(t.value)) + 0.5;
      if (o.top) { seg(px, T, px, T - 5); ctx.fillText(String(t.value), px, a.top - 16); }
      if (o.bottom) { seg(px, B, px, B + 5); ctx.fillText(String(t.value), px, a.bottom + 20); }
    });
    ys.ticks.forEach(t => {
      const py = Math.round(ys.getPixelForValue(t.value)) + 0.5;
      const rot = (x) => { ctx.save(); ctx.translate(x, py); ctx.rotate(-Math.PI / 2); ctx.fillText(String(t.value), 0, 0); ctx.restore(); };
      if (o.left) { seg(L, py, L - 5, py); rot(a.left - 11); }
      if (o.right) { seg(R, py, R + 5, py); rot(a.right + 19); }
    });
    ctx.restore();
  }
};

const givenLabels = {
  id: 'givenLabels',
  afterDraw(chart) {
    const {ctx, chartArea: a} = chart;
    ctx.save();
    ctx.strokeStyle = '#1a1a1a'; ctx.lineWidth = 1;
    ctx.strokeRect(a.left + 0.5, a.top + 0.5, a.right - a.left - 1, a.bottom - a.top - 1);
    ctx.fillStyle = '#333'; ctx.font = '8px ' + FONT; ctx.textAlign = 'center'; ctx.textBaseline = 'middle';
    chart.getDatasetMeta(0).data.forEach((b, i) => ctx.fillText(regions[i], (b.x + b.base) / 2, b.y + 0.5));
    ctx.restore();
  }
};

function addCanvas(left, top, w, h) {
  const c = document.createElement('canvas');
  c.width = w; c.height = h;
  c.style.left = left + 'px'; c.style.top = top + 'px';
  document.body.appendChild(c);
  return c;
}

const X_MIN = -0.75, X_MAX = 5.48;
const PAD = 30, PW = 255, PH = 161;

function panel(left, top, pts, yMin, yMax, axes) {
  const c = addCanvas(left - PAD, top - PAD, PW + 2 * PAD, PH + 2 * PAD);
  new Chart(c, {
    type: 'scatter',
    data: { datasets: [{ data: pts, pointRadius: 2.7, pointHoverRadius: 2.7, pointBackgroundColor: '#000', pointBorderWidth: 0, clip: 0 }] },
    options: {
      animation: false, responsive: false, events: [],
      layout: { padding: PAD },
      plugins: { legend: { display: false }, tooltip: { enabled: false }, rAxes: axes },
      scales: {
        x: { type: 'linear', min: X_MIN, max: X_MAX,
             afterBuildTicks: s => { s.ticks = xTicks.map(v => ({value: v})); },
             ticks: { display: false }, grid: { color: '#d8d8d8', lineWidth: 1, drawTicks: false }, border: { display: false } },
        y: { type: 'linear', min: yMin, max: yMax,
             afterBuildTicks: s => { s.ticks = yTicks.map(v => ({value: v})); },
             ticks: { display: false }, grid: { color: '#d8d8d8', lineWidth: 1, drawTicks: false }, border: { display: false } }
      }
    },
    plugins: [rAxes]
  });
}

function givenPanel(left, top) {
  const c = addCanvas(left, top, 510, 126);
  new Chart(c, {
    type: 'bar',
    data: { datasets: [{
      data: regions.map((r, i) => ({ x: [regionLo[i], regionHi[i]], y: i + 1 })),
      backgroundColor: '#f0f0f0', borderColor: '#3a3a3a', borderWidth: 1, borderSkipped: false, barThickness: 24
    }] },
    options: {
      indexAxis: 'y', animation: false, responsive: false, events: [],
      layout: { padding: 0 },
      plugins: { legend: { display: false }, tooltip: { enabled: false } },
      scales: {
        x: { type: 'linear', min: 0.482, max: 3.524, display: false },
        y: { type: 'linear', min: 0.385, max: 3.615, display: false }
      }
    },
    plugins: [givenLabels]
  });
}

// (A)
givenPanel(146, 51);
panel(146, 224, buildPoints(codT_zeroCapelin, codT_zeroCod, codT_cloud, codT_points), -0.69, 4.65, {top: true, right: true});
panel(146, 398, buildPoints(codR_zeroCapelin, codR_zeroCod, codR_cloud, codR_points), -0.69, 4.65, {left: true});
panel(401, 398, buildPoints(codS_zeroCapelin, codS_zeroCod, codS_cloud, codS_points), -0.69, 4.65, {bottom: true});
// (B)
givenPanel(141, 719);
panel(141, 893, buildPoints(plT_zeroCapelin, plT_zeroPlaice, plT_cloud, plT_points), -0.676, 4.076, {top: true, right: true});
panel(141, 1066, buildPoints(plR_zeroCapelin, plR_zeroPlaice, plR_cloud, plR_points), -0.676, 4.076, {left: true});
panel(396, 1066, buildPoints(plS_zeroCapelin, plS_zeroPlaice, plS_cloud, plS_points), -0.676, 4.076, {bottom: true});
</script>
</body></html>
